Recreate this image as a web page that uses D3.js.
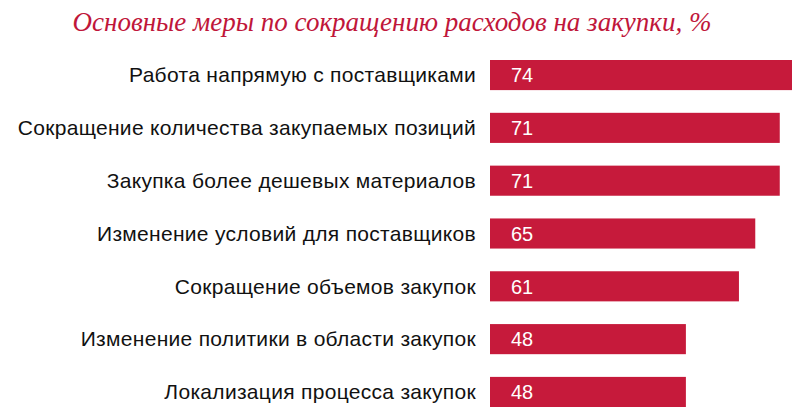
<!DOCTYPE html>
<html>
<head>
<meta charset="utf-8">
<script src="https://cdn.jsdelivr.net/npm/d3@7"></script>
<style>
  body { margin: 0; background: #fff; }
  .label { font-family: "Liberation Sans", Arial, sans-serif; font-size: 21px; letter-spacing: 0.3px; fill: #111; }
  .val { font-family: "Liberation Sans", Arial, sans-serif; font-size: 20px; fill: #fff; }
  .title { font-family: "Liberation Serif", serif; font-style: italic; font-size: 27px; fill: #c0163a; }
</style>
</head>
<body>
<svg width="806" height="420"></svg>
<script>
// Data
var categories = ['Работа напрямую с поставщиками', 'Сокращение количества закупаемых позиций',
  'Закупка более дешевых материалов', 'Изменение условий для поставщиков',
  'Сокращение объемов закупок', 'Изменение политики в области закупок',
  'Локализация процесса закупок'];
var values = [74, 71, 71, 65, 61, 48, 48];
var titleText = 'Основные меры по сокращению расходов на закупки, %';

var svg = d3.select('svg');

var scaleX = d3.scaleLinear()
  .domain([0, 74])
  .range([490, 792]);
var scaleY = d3.scaleBand()
  .domain(categories)
  .range([60, 407])
  .paddingInner(0.43)
  .paddingOuter(0);

svg.append('text').attr('class', 'title')
  .attr('x', 392).attr('y', 31)
  .attr('text-anchor', 'middle')
  .text(titleText);

var rows = svg.selectAll('g.row')
  .data(categories)
  .enter().append('g').attr('class', 'row');

rows.append('rect')
  .attr('x', scaleX(0))
  .attr('y', function(d) { return scaleY(d); })
  .attr('width', function(d, i) { return scaleX(values[i]) - scaleX(0); })
  .attr('height', scaleY.bandwidth())
  .attr('fill', '#c61a3b');

rows.append('text').attr('class', 'label')
  .attr('x', 476)
  .attr('y', function(d) { return scaleY(d) + scaleY.bandwidth() / 2; })
  .attr('dy', '0.35em')
  .attr('text-anchor', 'end')
  .text(function(d) { return d; });

rows.append('text').attr('class', 'val')
  .attr('x', scaleX(0) + 21)
  .attr('y', function(d) { return scaleY(d) + scaleY.bandwidth() / 2; })
  .attr('dy', '0.36em')
  .text(function(d, i) { return values[i]; });
</script>
</body>
</html>
